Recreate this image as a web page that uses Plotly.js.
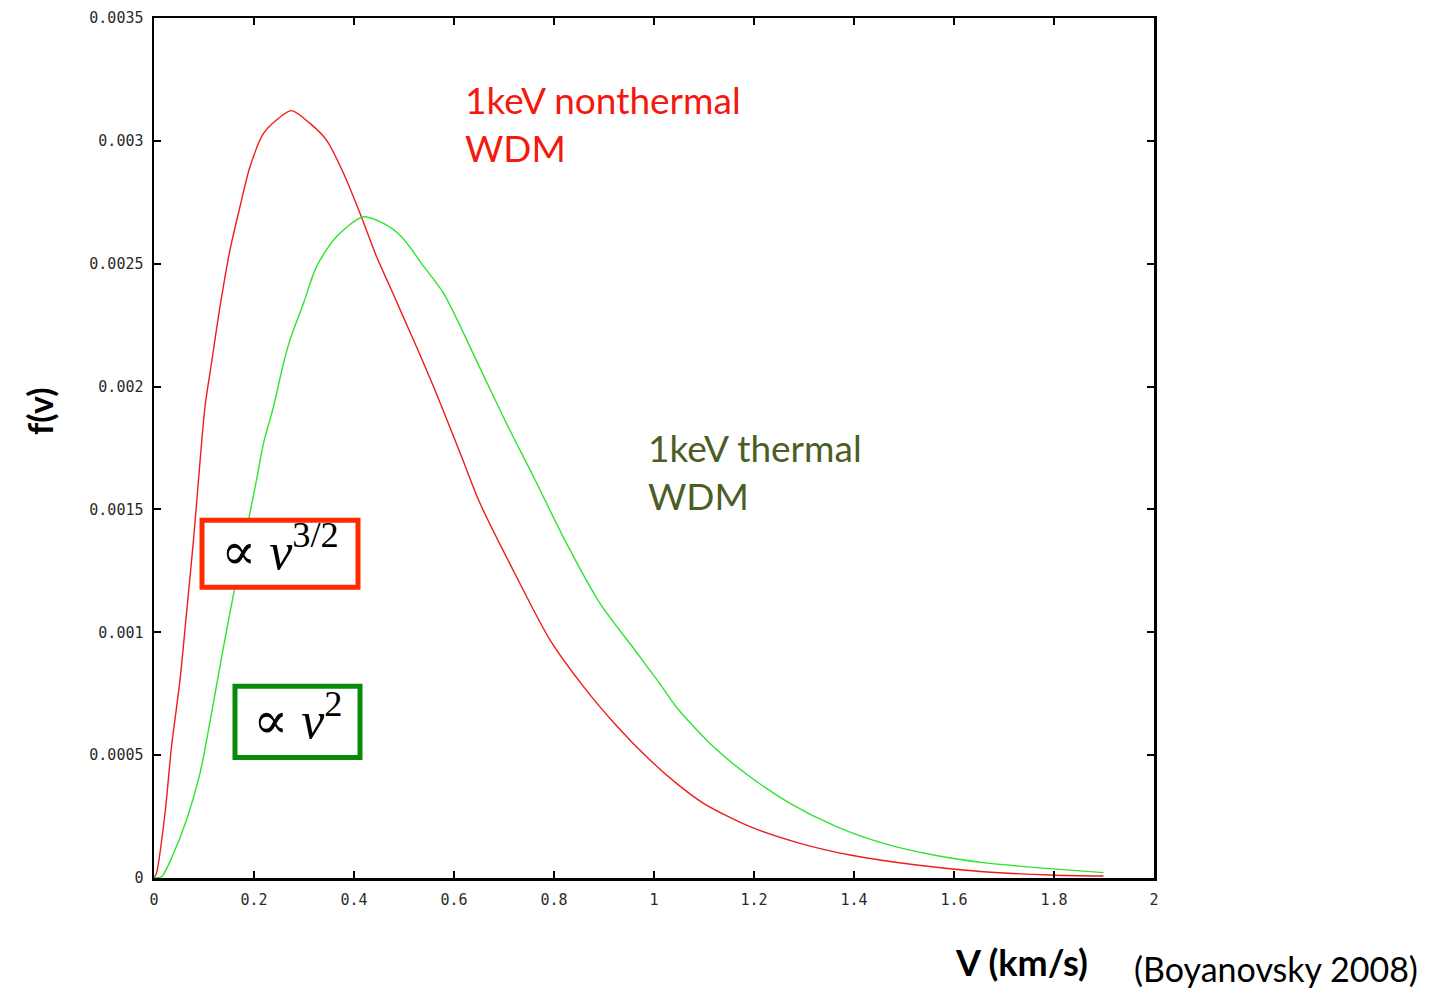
<!DOCTYPE html>
<html>
<head>
<meta charset="utf-8">
<script src="https://cdn.plot.ly/plotly-3.0.1.min.js"></script>
<style>
  html, body { margin: 0; padding: 0; background: #ffffff; }
  #chart { width: 1437px; height: 988px; }
</style>
</head>
<body>
<div id="chart"></div>
<script>
// Velocity distribution f(v) for 1 keV warm dark matter (km/s)
const vNonthermal = [0, 0.005, 0.022, 0.035, 0.052, 0.065, 0.079, 0.089, 0.102, 0.115, 0.132, 0.152,
  0.172, 0.192, 0.219, 0.245, 0.275, 0.312, 0.345, 0.379, 0.412, 0.445, 0.472, 0.495, 0.525, 0.559,
  0.579, 0.616, 0.652, 0.725, 0.792, 0.859, 0.925, 0.992, 1.045, 1.099, 1.192, 1.292, 1.392, 1.525,
  1.659, 1.792, 1.899];
const fNonthermal = [0, 0.00002, 0.000263, 0.000534, 0.000806, 0.001077, 0.001376, 0.00162, 0.001918,
  0.002095, 0.002325, 0.002556, 0.002732, 0.002895, 0.00303, 0.003085, 0.003123, 0.003071, 0.003003,
  0.002868, 0.002705, 0.002529, 0.002406, 0.0023, 0.002162, 0.002, 0.0019, 0.00171, 0.001525,
  0.001226, 0.000969, 0.000779, 0.00062, 0.00048, 0.000385, 0.000304, 0.000209, 0.000141, 0.0000936,
  0.0000529, 0.0000257, 0.0000122, 0.000008];

const vThermal = [0, 0.015, 0.039, 0.065, 0.092, 0.115, 0.139, 0.162, 0.185, 0.205, 0.219, 0.239,
  0.259, 0.272, 0.299, 0.325, 0.365, 0.419, 0.459, 0.495, 0.539, 0.579, 0.652, 0.705, 0.759, 0.825,
  0.892, 0.959, 1.012, 1.045, 1.119, 1.192, 1.272, 1.365, 1.459, 1.559, 1.659, 1.759, 1.899];
const fThermal = [0, 0.000005, 0.0001, 0.000236, 0.000426, 0.00067, 0.000941, 0.001186, 0.001416,
  0.00162, 0.001769, 0.001918, 0.002095, 0.00219, 0.002339, 0.002488, 0.00261, 0.002691, 0.002664,
  0.00261, 0.00249, 0.00238, 0.002075, 0.00185, 0.001633, 0.001362, 0.001118, 0.000935, 0.00079,
  0.000695, 0.000534, 0.000412, 0.000304, 0.000209, 0.000141, 0.0000936, 0.0000624, 0.0000434,
  0.0000217];

const xTickVals = [0, 0.2, 0.4, 0.6, 0.8, 1, 1.2, 1.4, 1.6, 1.8, 2];
const xTickText = ['0', '0.2', '0.4', '0.6', '0.8', '1', '1.2', '1.4', '1.6', '1.8', '2'];
const yTickVals = [0, 0.0005, 0.001, 0.0015, 0.002, 0.0025, 0.003, 0.0035];
const yTickText = ['0', '0.0005', '0.001', '0.0015', '0.002', '0.0025', '0.003', '0.0035'];

const traces = [
  { x: vNonthermal, y: fNonthermal, type: 'scatter', mode: 'lines',
    line: { color: '#ee1c1c', width: 1.4, shape: 'spline', smoothing: 0.8 }, name: '1keV nonthermal WDM' },
  { x: vThermal, y: fThermal, type: 'scatter', mode: 'lines',
    line: { color: '#2ee42e', width: 1.4, shape: 'spline', smoothing: 0.8 }, name: '1keV thermal WDM' }
];

const tickFont = { family: 'DejaVu Sans Mono, monospace', size: 15, color: '#2a2a2a' };
const labelFont = 'Lato, "Open Sans", sans-serif';
const mathFont = '"Liberation Serif", "DejaVu Serif", serif';

const axisCommon = {
  showgrid: false, zeroline: false, showline: true, linecolor: '#000000', linewidth: 2.5,
  mirror: 'ticks', ticks: 'inside', ticklen: 7, tickwidth: 2, tickcolor: '#000000',
  tickfont: tickFont, tickmode: 'array'
};

const layout = {
  width: 1437, height: 988,
  margin: { l: 154, r: 283, t: 18, b: 110 },
  paper_bgcolor: '#ffffff', plot_bgcolor: '#ffffff',
  showlegend: false,
  xaxis: Object.assign({}, axisCommon, { range: [0, 2], tickvals: xTickVals, ticktext: xTickText,
    ticklabelstandoff: 6 }),
  yaxis: Object.assign({}, axisCommon, { range: [0, 0.0035], tickvals: yTickVals, ticktext: yTickText,
    ticklabelstandoff: 5 }),
  shapes: [
    { type: 'rect', xref: 'paper', yref: 'paper', x0: 0.048, x1: 0.204, y0: 0.338, y1: 0.416,
      line: { color: '#ff2a00', width: 5 }, fillcolor: '#ffffff' },
    { type: 'rect', xref: 'paper', yref: 'paper', x0: 0.081, x1: 0.206, y0: 0.140, y1: 0.223,
      line: { color: '#0a8a0a', width: 5 }, fillcolor: '#ffffff' }
  ],
  annotations: [
    { xref: 'paper', yref: 'paper', x: 0.309, y: 0.877, xanchor: 'left', yanchor: 'middle',
      align: 'left', showarrow: false, text: '1keV nonthermal<br>WDM',
      font: { family: labelFont, size: 37, color: '#f5180e' } },
    { xref: 'paper', yref: 'paper', x: 0.492, y: 0.473, xanchor: 'left', yanchor: 'middle',
      align: 'left', showarrow: false, text: '1keV thermal<br>WDM',
      font: { family: labelFont, size: 37, color: '#4b5e24' } },
    { xref: 'paper', yref: 'paper', x: 0.126, y: 0.384, xanchor: 'center', yanchor: 'middle',
      showarrow: false, text: '∝ <i>v</i><sup>3/2</sup>',
      font: { family: mathFont, size: 52, color: '#000000' } },
    { xref: 'paper', yref: 'paper', x: 0.144, y: 0.188, xanchor: 'center', yanchor: 'middle',
      showarrow: false, text: '∝ <i>v</i><sup>2</sup>',
      font: { family: mathFont, size: 52, color: '#000000' } },
    { xref: 'paper', yref: 'paper', x: -0.114, y: 0.542, xanchor: 'center', yanchor: 'middle',
      showarrow: false, textangle: -90, text: '<b>f(v)</b>',
      font: { family: labelFont, size: 34, color: '#000000' } },
    { xref: 'paper', yref: 'paper', x: 0.867, y: -0.098, xanchor: 'center', yanchor: 'middle',
      showarrow: false, text: '<b>V (km/s)</b>',
      font: { family: labelFont, size: 36, color: '#000000' } },
    { xref: 'paper', yref: 'paper', x: 1.122, y: -0.105, xanchor: 'center', yanchor: 'middle',
      showarrow: false, text: '(Boyanovsky 2008)',
      font: { family: labelFont, size: 34, color: '#000000' } }
  ]
};

Plotly.newPlot('chart', traces, layout, { displayModeBar: false, staticPlot: true });
</script>
</body>
</html>
